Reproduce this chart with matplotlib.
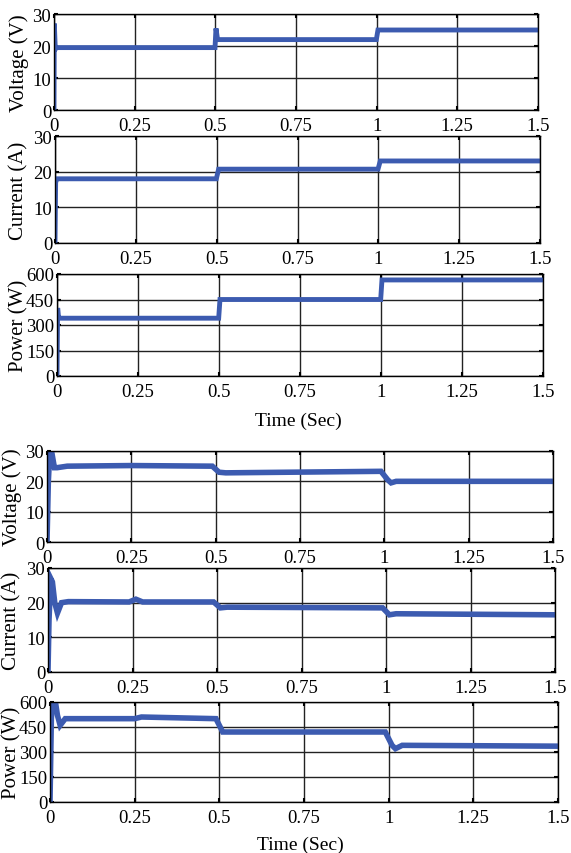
import numpy as np
import matplotlib.pyplot as plt

# ---- data (time in s) ----
# upper group
t_v1 = [0, 0.001, 0.004, 0.008, 0.499, 0.502, 0.507, 0.999, 1.004, 1.5]
v1 = [0, 27, 19, 19.5, 19.5, 25.5, 22, 22, 25, 25]
t_i1 = [0, 0.002, 0.006, 0.499, 0.506, 0.999, 1.006, 1.5]
i1 = [0, 17, 18, 18, 20.7, 20.7, 23, 23]
t_p1 = [0, 0.002, 0.005, 0.01, 0.499, 0.503, 0.999, 1.003, 1.5]
p1 = [0, 400, 340, 340, 340, 450, 450, 565, 565]

# lower group
t_v2 = [0, 0.004, 0.008, 0.015, 0.022, 0.03, 0.06, 0.25, 0.49, 0.51, 0.53,
        0.99, 1.01, 1.02, 1.035, 1.5]
v2 = [0, 20, 29, 29, 24.5, 24.5, 25, 25.2, 25, 23, 22.8, 23.3, 20.5, 19.5, 20, 20]
t_i2 = [0, 0.003, 0.008, 0.013, 0.02, 0.028, 0.04, 0.06, 0.24, 0.26, 0.28, 0.49,
        0.51, 0.53, 0.99, 1.01, 1.03, 1.5]
i2 = [0, 15, 27, 26, 20, 17, 20, 20.3, 20.2, 21, 20.2, 20.2, 18.5, 18.7, 18.5,
      16.5, 16.8, 16.5]
t_p2 = [0, 0.004, 0.007, 0.016, 0.022, 0.03, 0.045, 0.25, 0.27, 0.49, 0.51, 0.53,
        0.99, 1.01, 1.02, 1.04, 1.5]
p2 = [0, 500, 600, 600, 520, 460, 500, 500, 510, 500, 420, 420, 420, 340, 320,
      340, 335]

x_ticks = [0, 0.25, 0.5, 0.75, 1, 1.25, 1.5]
x_labels = ['0', '0.25', '0.5', '0.75', '1', '1.25', '1.5']
vi_ticks = [0, 10, 20, 30]
p_ticks = [0, 150, 300, 450, 600]

W, H = 571, 854
plt.rcParams['font.family'] = ['Liberation Serif', 'DejaVu Serif']
fig = plt.figure(figsize=(W / 100, H / 100), dpi=100)
blue = '#3C5BB0'


def panel(l, r, top, bot, t, y, yt, ylab, ylab_x, lw):
    ax = fig.add_axes([l / W, 1 - bot / H, (r - l) / W, (bot - top) / H])
    ax.plot(t, y, color=blue, lw=lw, solid_joinstyle='miter')
    ax.set_xlim(0, 1.5)
    ax.set_ylim(yt[0], yt[-1])
    ax.set_xticks(x_ticks)
    ax.set_xticklabels(x_labels)
    ax.set_yticks(yt)
    ax.grid(True, color='#222222', lw=1.0)
    ax.tick_params(direction='in', length=3, width=1.5, top=True, right=True,
                   labelsize=13.5)
    ax.tick_params(axis='x', pad=5)
    ax.tick_params(axis='y', pad=2)
    for s in ax.spines.values():
        s.set_linewidth(1.0)
    fig.text(ylab_x / W, 1 - (top + bot) / 2 / H, ylab, rotation=90,
             ha='center', va='center', fontsize=15)
    return ax


panel(54, 538, 15, 111, t_v1, v1, vi_ticks, 'Voltage (V)', 19, 3.5)
panel(55, 540, 137, 244, t_i1, i1, vi_ticks, 'Current (A)', 19, 3.5)
panel(57, 543, 275, 377, t_p1, p1, p_ticks, 'Power (W)', 19, 3.5)
fig.text(298 / W, 1 - 421 / H, 'Time (Sec)', ha='center', va='center', fontsize=14)

panel(47, 553, 452, 543, t_v2, v2, vi_ticks, 'Voltage (V)', 12, 4)
panel(48, 555, 569, 673, t_i2, i2, vi_ticks, 'Current (A)', 12, 4)
panel(50, 558, 703, 803, t_p2, p2, p_ticks, 'Power (W)', 12, 4)
fig.text(300 / W, 1 - 845 / H, 'Time (Sec)', ha='center', va='center', fontsize=14)

fig.savefig('out.png', dpi=100)
